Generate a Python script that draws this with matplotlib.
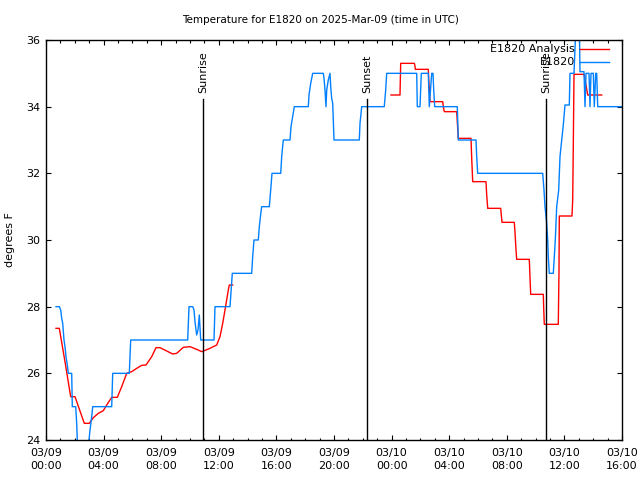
import matplotlib
matplotlib.use('Agg')
import matplotlib.pyplot as plt
import numpy as np

title = "Temperature for E1820 on 2025-Mar-09 (time in UTC)"
ylabel = "degrees F"
series_names = ["E1820 Analysis", "E1820"]
tick_hours = list(range(0, 41, 4))
tick_labels = ["03/09\n00:00", "03/09\n04:00", "03/09\n08:00", "03/09\n12:00",
               "03/09\n16:00", "03/09\n20:00", "03/10\n00:00", "03/10\n04:00",
               "03/10\n08:00", "03/10\n12:00", "03/10\n16:00"]
y_ticks = [24, 26, 28, 30, 32, 34, 36]

# hours since 2025-03-09 00:00 UTC
analysis_hours = [0.694, 0.924, 1.319, 1.713, 2.014, 2.66, 3.007, 3.285, 3.632, 3.979,
                  4.215, 4.563, 4.951, 5.257, 5.604, 5.951, 6.299, 6.646, 6.944, 7.34,
                  7.639, 7.917, 8.382, 8.799, 9.076, 9.535, 10.0, 10.465, 10.813, 11.389,
                  11.854, 12.083, 12.271, 12.431, 12.66, 12.73, 12.965,
                  18.0,
                  23.958, 24.583, 24.632, 25.576, 25.625, 25.646, 26.549, 26.597, 26.618,
                  26.667, 27.549, 27.59, 27.66, 28.521, 28.562, 28.632, 29.514, 29.563,
                  29.632, 30.556, 30.604, 30.674, 31.576, 31.618, 31.667, 32.521, 32.569,
                  32.639, 32.688, 33.563, 33.611, 33.66, 34.535, 34.563, 34.604, 35.576,
                  35.625, 35.646, 36.528, 36.576, 36.618, 36.667, 37.361, 37.5, 37.618,
                  38.59]
analysis_temps = [27.35, 27.35, 26.35, 25.3, 25.3, 24.5, 24.5, 24.67, 24.8, 24.88,
                  25.05, 25.28, 25.28, 25.6, 26.0, 26.05, 26.15, 26.24, 26.25, 26.5,
                  26.77, 26.77, 26.67, 26.58, 26.6, 26.78, 26.8, 26.72, 26.65, 26.75,
                  26.85, 27.1, 27.5, 27.9, 28.5, 28.65, 28.65,
                  np.nan,
                  34.35, 34.35, 35.3, 35.3, 35.22, 35.12, 35.12, 34.65, 34.55,
                  34.15, 34.15, 34.0, 33.85, 33.85, 33.55, 33.05, 33.05, 32.45,
                  31.75, 31.75, 31.35, 30.95, 30.95, 30.75, 30.53, 30.53, 30.23,
                  29.7, 29.42, 29.42, 28.88, 28.37, 28.37, 27.95, 27.47, 27.47,
                  29.1, 30.72, 30.72, 31.2, 32.85, 34.97, 34.97, 34.65, 34.35,
                  34.35]

obs_hours = [0.694, 0.924, 1.021, 1.09, 1.16, 1.25, 1.319, 1.389, 1.479, 1.549,
             1.785, 1.826, 2.063, 2.132, 2.174, 2.257, 2.917, 2.986, 3.056, 3.174,
             3.243, 4.563, 4.632, 5.785, 5.833, 5.882, 9.84, 9.931, 10.188, 10.278,
             10.347, 10.417, 10.465, 10.556, 10.646, 10.743, 11.667, 11.736, 12.778,
             12.938, 14.285, 14.354, 14.444, 14.743, 14.813, 14.931, 14.979, 15.507,
             15.604, 15.694, 16.299, 16.368, 16.479, 16.944, 17.014, 17.243, 18.215,
             18.264, 18.382, 18.521, 19.257, 19.306, 19.375, 19.444, 19.493, 19.604,
             19.722, 19.771, 19.84, 19.91, 20.0, 21.757, 21.806, 21.924, 23.49,
             23.59, 23.66, 25.743, 25.785, 25.972, 26.063, 26.549, 26.618, 26.785,
             26.875, 26.924, 26.993, 28.563, 28.632, 29.861, 29.91, 29.979, 34.493,
             34.583, 34.653, 34.771, 34.84, 34.882, 34.951, 35.229, 35.299, 35.368,
             35.465, 35.604, 35.694, 35.813, 35.924, 36.042, 36.34, 36.389, 36.667,
             36.736, 36.806, 37.035, 37.083, 37.361, 37.431, 37.5, 37.708, 37.778,
             37.847, 38.007, 38.076, 38.174, 38.243, 38.313, 39.965]
obs_temps = [28.0, 28.0, 27.9, 27.65, 27.5, 27.0, 26.8, 26.5, 26.25, 26.0,
             26.0, 25.0, 25.0, 24.5, 24.0, 23.5, 23.5, 24.0, 24.3, 24.7,
             25.0, 25.0, 26.0, 26.0, 26.5, 27.0, 27.0, 28.0, 28.0, 27.9,
             27.55, 27.3, 27.15, 27.3, 27.75, 27.0, 27.0, 28.0, 28.0,
             29.0, 29.0, 29.5, 30.0, 30.0, 30.4, 30.85, 31.0, 31.0,
             31.5, 32.0, 32.0, 32.5, 33.0, 33.0, 33.4, 34.0, 34.0,
             34.35, 34.7, 35.0, 35.0, 34.85, 34.5, 34.0, 34.5, 34.8,
             35.0, 34.6, 34.25, 34.1, 33.0, 33.0, 33.5, 34.0, 34.0,
             34.5, 35.0, 35.0, 34.0, 34.0, 35.0, 35.0, 34.0, 35.0,
             35.0, 34.5, 34.0, 34.0, 33.0, 33.0, 32.5, 32.0, 32.0,
             31.5, 31.0, 30.5, 30.0, 29.5, 29.0, 29.0, 29.5, 30.0,
             31.0, 31.5, 32.5, 33.0, 33.45, 34.05, 34.05, 35.0, 35.0,
             35.75, 36.5, 36.5, 35.05, 35.05, 34.0, 35.0, 35.0, 34.0,
             35.0, 35.0, 34.0, 35.0, 35.0, 34.0, 34.0]

event_names = ["Sunrise", "Sunset", "Sunrise"]
event_hours = [10.90, 22.29, 34.75]

red = '#ff0000'
blue = '#0080ff'
font = 'DejaVu Sans'
fs = 8

fig = plt.figure(figsize=(6.4, 4.8), dpi=100)
ax = fig.add_axes([46/640, 40/480, 576/640, 400/480])

ax.plot(analysis_hours, analysis_temps, color=red, lw=1.0)
ax.plot(obs_hours, obs_temps, color=blue, lw=1.0)

for name, h in zip(event_names, event_hours):
    ax.axvline(h, ymin=0, ymax=0.8525, color='black', lw=1.0)
    ax.text(h, 0.8675, name, transform=ax.get_xaxis_transform(), rotation=90,
            ha='center', va='bottom', fontsize=fs, family=font)

ax.set_xlim(0, 40)
ax.set_ylim(24, 36)
ax.set_xticks(tick_hours)
ax.set_xticklabels(tick_labels, fontsize=fs, family=font, linespacing=1.3)
ax.set_xticks(range(0, 41), minor=True)
ax.set_yticks(y_ticks)
ax.set_yticklabels([str(v) for v in y_ticks], fontsize=fs, family=font)
ax.tick_params(which='major', direction='in', top=True, right=True,
               length=3.5, width=0.8)
ax.tick_params(which='minor', direction='in', top=True, right=True,
               length=1.8, width=0.8)
ax.tick_params(axis='x', which='major', pad=6)
ax.tick_params(axis='y', which='major', pad=4)
for s in ax.spines.values():
    s.set_linewidth(1.0)

ax.set_ylabel(ylabel, fontsize=fs, family=font, labelpad=8)

fig.text(0.5, 1 - 20/480, title, ha='center', va='center', fontsize=7.5, family=font)

# legend
legend_rows = [(series_names[0], red, 0.9775), (series_names[1], blue, 0.945)]
for name, c, yy in legend_rows:
    ax.text(0.918, yy, name, transform=ax.transAxes, ha='right', va='center',
            fontsize=fs, family=font)
    ax.plot([0.927, 0.977], [yy, yy], transform=ax.transAxes, color=c, lw=1.0,
            clip_on=False)

fig.savefig('out.png', dpi=100)
